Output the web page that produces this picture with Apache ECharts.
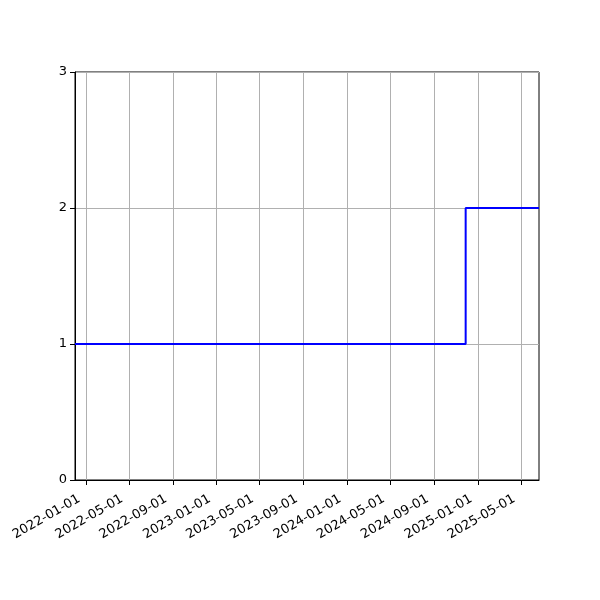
<!DOCTYPE html>
<html>
<head>
<meta charset="utf-8">
<script src="https://cdn.jsdelivr.net/npm/echarts@6/dist/echarts.min.js"></script>
<style>
  html, body { margin: 0; padding: 0; background: #fff; }
  #chart { width: 600px; height: 600px; }
</style>
</head>
<body>
<div id="chart"></div>
<script>
// step data (value holds until the next date)
const dates = ['2021-12-01', '2024-11-27', '2025-06-20'];
const values = [1, 2, 2];
// x tick dates, every four months
const tickDates = ['2022-01-01', '2022-05-01', '2022-09-01', '2023-01-01', '2023-05-01',
  '2023-09-01', '2024-01-01', '2024-05-01', '2024-09-01', '2025-01-01', '2025-05-01'];
const yTicks = [0, 1, 2, 3];

const toTime = d => new Date(d + 'T00:00:00Z').getTime();
const tickTimes = tickDates.map(toTime);
const pad = n => (n < 10 ? '0' : '') + n;
const fmtDate = v => {
  const d = new Date(v);
  return d.getUTCFullYear() + '-' + pad(d.getUTCMonth() + 1) + '-' + pad(d.getUTCDate());
};

const chart = echarts.init(document.getElementById('chart'), null, { renderer: 'canvas' });
chart.setOption({
  animation: false,
  backgroundColor: '#ffffff',
  textStyle: { fontFamily: 'DejaVu Sans' },
  grid: {
    left: 75, right: 61, top: 72, bottom: 120,
    show: true, borderColor: '#000', borderWidth: 1, backgroundColor: 'transparent'
  },
  xAxis: {
    type: 'value',
    scale: true,
    min: toTime(dates[0]),
    max: toTime(dates[dates.length - 1]),
    axisLine: { show: true, onZero: false, lineStyle: { color: '#000', width: 1 } },
    axisTick: { show: true, customValues: tickTimes, length: 5, lineStyle: { color: '#000' } },
    axisLabel: {
      customValues: tickTimes, rotate: 30, color: '#000', fontSize: 13,
      margin: 14, padding: [0, 8, 0, 0], formatter: v => fmtDate(v), hideOverlap: false
    },
    splitLine: { show: true, lineStyle: { color: '#b0b0b0', width: 1 } }
  },
  yAxis: {
    type: 'value',
    min: yTicks[0],
    max: yTicks[yTicks.length - 1],
    interval: 1,
    axisLine: { show: true, lineStyle: { color: '#000', width: 1 } },
    axisTick: { show: true, length: 5, lineStyle: { color: '#000' } },
    axisLabel: { color: '#000', fontSize: 13, margin: 8 },
    splitLine: { show: true, lineStyle: { color: '#b0b0b0', width: 1 } }
  },
  series: [{
    type: 'line',
    step: 'end',
    data: dates.map((d, i) => [toTime(d), values[i]]),
    showSymbol: false,
    lineStyle: { color: '#0000ff', width: 2 },
    itemStyle: { color: '#0000ff' },
    z: 5
  }]
});
</script>
</body>
</html>
